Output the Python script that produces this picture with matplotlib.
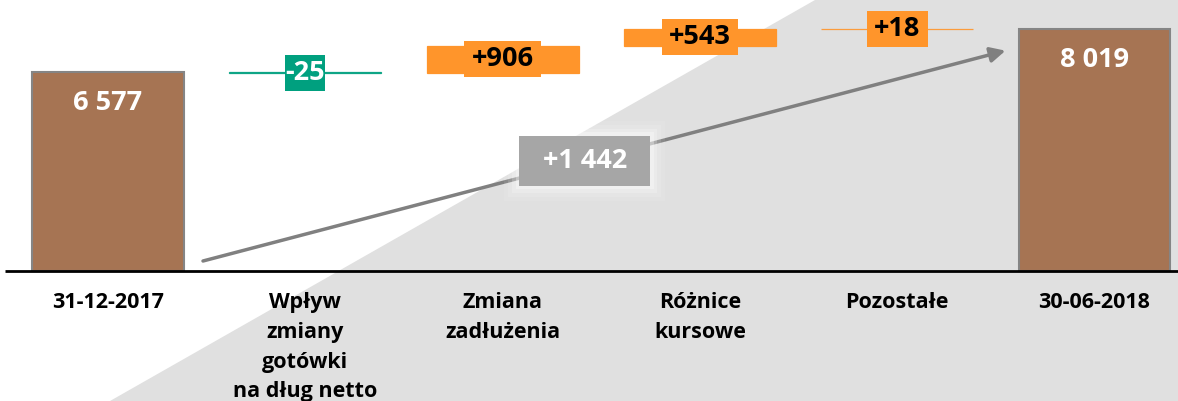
import matplotlib.pyplot as plt
from matplotlib.patches import Polygon, Rectangle

# data
categories = ['31-12-2017', 'Wpływ\nzmiany\ngotówki\nna dług netto', 'Zmiana\nzadłużenia',
              'Różnice\nkursowe', 'Pozostałe', '30-06-2018']
start_value = 6577
changes = [-25, 906, 543, 18]
end_value = 8019

BROWN = '#a67453'
ORANGE = '#ff952b'
GREEN = '#00a07f'
GREY_BOX = '#a6a6a6'
ARROW = '#808080'
BG = '#e0e0e0'

W, H = 1178, 401
PX_X = 197.3        # pixels per category
PX_Y = 0.03022      # pixels per unit
X0, Y0 = 108, 271   # pixel position of category 0 / value 0

fig = plt.figure(figsize=(W / 100, H / 100), dpi=100)
ax = fig.add_axes([0, 0, 1, 1])
ax.set_xlim(-X0 / PX_X, (W - X0) / PX_X)
ax.set_ylim(-(H - Y0) / PX_Y, Y0 / PX_Y)
ax.axis('off')

def px(dx, dy):
    # pixel size -> data size
    return dx / PX_X, dy / PX_Y

# background diagonal
for off, a in [(14, 0.25), (7, 0.5), (0, 1.0)]:
    ax.add_patch(Polygon([((815 + off) / W, 1), (1, 1), (1, 0), ((110 + off) / W, 0)],
                         closed=True, transform=ax.transAxes, facecolor=BG,
                         edgecolor='none', alpha=a, zorder=0))

FONT = 'Open Sans'
VFS = 19.5
bar_w = 0.77

# start / end bars
for i, v in [(0, start_value), (5, end_value)]:
    ax.bar(i, v, width=bar_w, color=BROWN, edgecolor='#858585', linewidth=1.5, zorder=3)
    ax.text(i, v - px(0, 31)[1], f'{v:,}'.replace(',', ' '), ha='center', va='center',
            color='white', fontsize=VFS, fontweight='bold', family=FONT, zorder=5)

# floating bars
box_w_px = [40, 77, 76, 61]
colors = [GREEN, ORANGE, ORANGE, ORANGE]
text_colors = ['white', 'black', 'black', 'black']
level = start_value
for k, c in enumerate(changes):
    i = k + 1
    lo, hi = min(level, level + c), max(level, level + c)
    ax.bar(i, hi - lo, bottom=lo, width=bar_w, color=colors[k], edgecolor=colors[k],
           linewidth=0.9, alpha=1.0 if abs(c) > 100 else 0.9, zorder=3)
    mid = (lo + hi) / 2
    bw, bh = px(box_w_px[k], 36)
    ax.add_patch(Rectangle((i - bw / 2, mid - bh / 2), bw, bh, facecolor=colors[k],
                           edgecolor='none', zorder=4))
    ax.text(i, mid, f'{c:+d}', ha='center', va='center', color=text_colors[k],
            fontsize=VFS, fontweight='bold', family=FONT, zorder=5)
    level += c

# baseline
ax.plot([-X0 / PX_X + px(5, 0)[0], (W - X0) / PX_X], [0, 0], color='black', lw=2,
        zorder=4, solid_capstyle='butt')

# arrow from first to last bar
x_s, y_s = 0 + px(95, 0)[0], px(0, 10)[1]
x_e, y_e = 5 - px(89, 0)[0], end_value - px(0, 22)[1]
ax.annotate('', xy=(x_e, y_e), xytext=(x_s, y_s),
            arrowprops=dict(arrowstyle='-|>,head_length=0.9,head_width=0.45',
                            color=ARROW, lw=2.5, shrinkA=0, shrinkB=0), zorder=4)

# total change box on the arrow
t = 0.476
bx, by = x_s + t * (x_e - x_s), y_s + t * (y_e - y_s)
for grow, a in [(30, 0.08), (22, 0.12), (14, 0.2), (7, 0.3)]:
    gw, gh = px(131 + grow, 50 + grow)
    ax.add_patch(Rectangle((bx - gw / 2, by - gh / 2), gw, gh, facecolor='white',
                           edgecolor='none', alpha=a, zorder=5))
bw, bh = px(131, 50)
ax.add_patch(Rectangle((bx - bw / 2, by - bh / 2), bw, bh, facecolor=GREY_BOX,
                       edgecolor='none', zorder=6))
total = end_value - start_value
ax.text(bx, by, f'{total:+,}'.replace(',', ' '), ha='center', va='center', color='white',
        fontsize=VFS, fontweight='bold', family=FONT, zorder=7)

# category labels
for i, lab in enumerate(categories):
    ax.text(i, -px(0, 21)[1], lab, ha='center', va='top', color='black', fontsize=15.5,
            fontweight='bold', family=FONT, linespacing=1.55, zorder=5)

fig.savefig('out.png', dpi=100)
